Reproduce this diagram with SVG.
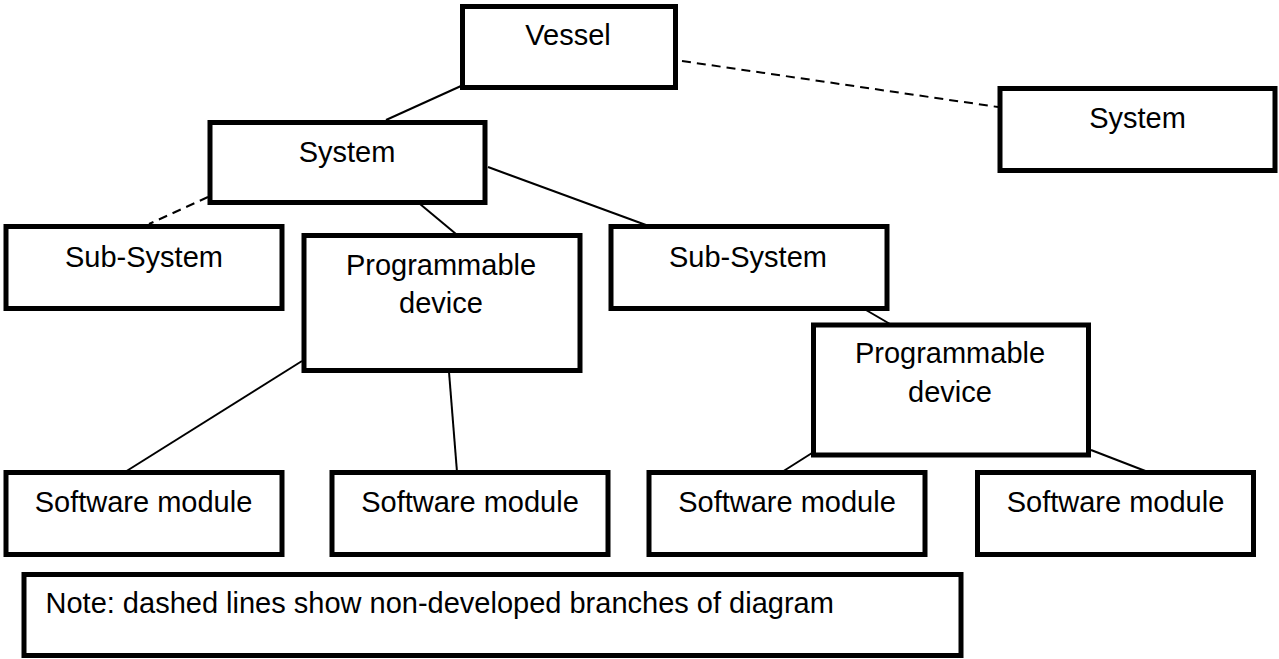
<svg xmlns="http://www.w3.org/2000/svg" width="1279" height="659" viewBox="0 0 1279 659">
<style>
.box{fill:#fff;stroke:#000;stroke-width:5}
.t{font-family:"Liberation Sans",Arial,sans-serif;font-size:29px;fill:#000;text-anchor:middle}
.tl{font-family:"Liberation Sans",Arial,sans-serif;font-size:29px;fill:#000}
.c{stroke:#000;stroke-width:2;fill:none}
.d{stroke:#000;stroke-width:2;fill:none;stroke-dasharray:9 6}
</style>
<rect width="1279" height="659" fill="#fff"/>
<g id="connectors">
<line class="c" x1="461" y1="86" x2="386" y2="120"/>
<line class="d" x1="682" y1="61" x2="998" y2="107"/>
<line class="d" x1="208" y1="197" x2="149" y2="224"/>
<line class="c" x1="420" y1="204" x2="456" y2="234"/>
<line class="c" x1="488" y1="167" x2="646" y2="225"/>
<line class="c" x1="866" y1="310" x2="890" y2="324"/>
<line class="c" x1="302" y1="361" x2="125" y2="472"/>
<line class="c" x1="449" y1="372" x2="457" y2="472"/>
<line class="c" x1="812" y1="453" x2="782" y2="472"/>
<line class="c" x1="1091" y1="450" x2="1148" y2="472"/>
</g>
<g id="vessel"><rect class="box" x="462.5" y="6.5" width="213" height="81"/><text class="t" x="568" y="45">Vessel</text></g>
<g id="system-right"><rect class="box" x="1000" y="88.5" width="275" height="82"/><text class="t" x="1137.5" y="128">System</text></g>
<g id="system"><rect class="box" x="210" y="122.5" width="275" height="80"/><text class="t" x="347" y="162">System</text></g>
<g id="subsystem-left"><rect class="box" x="6" y="226.5" width="276" height="82"/><text class="t" x="144" y="267">Sub-System</text></g>
<g id="prog-left"><rect class="box" x="304" y="235.5" width="276" height="135"/><text class="t" x="441" y="275">Programmable</text><text class="t" x="441" y="313">device</text></g>
<g id="subsystem-right"><rect class="box" x="611" y="226.5" width="276" height="82"/><text class="t" x="748" y="267">Sub-System</text></g>
<g id="prog-right"><rect class="box" x="813.5" y="325" width="275" height="130"/><text class="t" x="950" y="363">Programmable</text><text class="t" x="950" y="402">device</text></g>
<g id="sm1"><rect class="box" x="6" y="472.5" width="276" height="82"/><text class="t" x="143.5" y="512">Software module</text></g>
<g id="sm2"><rect class="box" x="332" y="472.5" width="276" height="82"/><text class="t" x="470" y="512">Software module</text></g>
<g id="sm3"><rect class="box" x="649" y="472.5" width="276" height="82"/><text class="t" x="787" y="512">Software module</text></g>
<g id="sm4"><rect class="box" x="977.5" y="472.5" width="276" height="82"/><text class="t" x="1115.5" y="512">Software module</text></g>
<g id="note"><rect class="box" x="24" y="574.5" width="937" height="81"/><text class="tl" x="45.5" y="613">Note: dashed lines show non-developed branches of diagram</text></g>
</svg>
